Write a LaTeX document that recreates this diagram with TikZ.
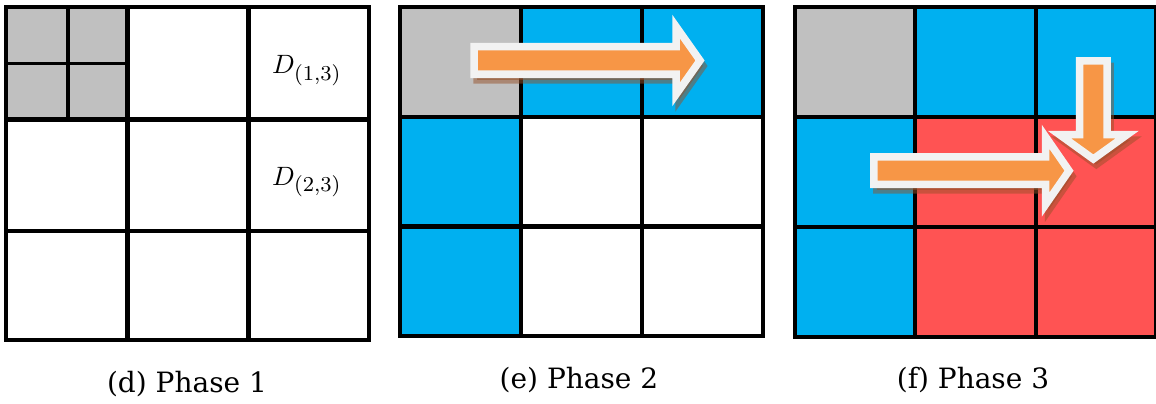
\documentclass[tikz,border=0pt]{standalone}
\usepackage{graphicx}
\usepackage{fontspec}
\newfontfamily\capfont{DejaVu Serif}
\definecolor{cellgray}{HTML}{C0C0C0}
\definecolor{cellblue}{HTML}{00B0F0}
\definecolor{cellred}{HTML}{FF5353}
\definecolor{arroworange}{HTML}{F79646}
\definecolor{arrowrim}{HTML}{F2F2F2}
\definecolor{shadowbrown}{RGB}{150,80,40}
% block name D with an enlarged index, scaled up as a whole
\newcommand{\blocktext}[2]{\scalebox{2.65}{$D_{\hbox{\fontsize{8}{9}\selectfont$(#1{,}#2)$}}$}}
\tikzset{
  gridline/.style={line width=4.2, black},
  subline/.style={line width=3.6, black},
  arrowshadow/.style={fill=shadowbrown, draw=shadowbrown, line width=7.5, miter limit=10, opacity=0.5},
  arrowbody/.style={fill=arroworange, draw=arrowrim, line width=7.5, miter limit=10},
  blocklabel/.style={inner sep=0},
  caption/.style={inner sep=0, font=\capfont\fontsize{28}{32}\selectfont},
}
\begin{document}
\begin{tikzpicture}[x=1pt,y=-1pt]
\useasboundingbox (0,0) rectangle (1156,404);

% ---------- Phase 1 ----------
\fill[cellgray] (6,7) rectangle (127.5,119.5);
\draw[subline] (68,7) -- (68,119.5);
\draw[subline] (6,63.5) -- (127.5,63.5);
\draw[gridline] (127.5,7) -- (127.5,340) (248.5,7) -- (248.5,340)
                (6,119.5) -- (369,119.5) (6,231) -- (369,231);
\draw[gridline] (6,7) rectangle (369,340);
\node[blocklabel, anchor=base west] (d13) at (272,73.3) {\blocktext{1}{3}};
\node[blocklabel, anchor=base west] (d23) at (272,185) {\blocktext{2}{3}};
\node[caption, anchor=base] (capd) at (187,392.7) {(d) Phase 1};

% ---------- Phase 2 ----------
\fill[cellgray] (400,7) rectangle (521,117);
\fill[cellblue] (521,7) rectangle (763,117);
\fill[cellblue] (400,117) rectangle (521,336);
\draw[gridline] (521,7) -- (521,336) (642,7) -- (642,336)
                (400,117) -- (763,117) (400,226.5) -- (763,226.5);
\draw[gridline] (400,7) rectangle (763,336);
\node[caption, anchor=base] (cape) at (579,388.5) {(e) Phase 2};

% arrow along the first row
\draw[arrowshadow, shift={(3,5.5)}]
  (474,46.75) -- (676,46.75) -- (676,26.5) -- (700,60.5) -- (676,94.5) -- (676,74.25) -- (474,74.25) -- cycle;
\draw[arrowbody]
  (474,46.75) -- (676,46.75) -- (676,26.5) -- (700,60.5) -- (676,94.5) -- (676,74.25) -- (474,74.25) -- cycle;

% ---------- Phase 3 ----------
\fill[cellgray] (795,7) rectangle (915.3,117);
\fill[cellblue] (915.3,7) rectangle (1156,117);
\fill[cellblue] (795,117) rectangle (915.3,337);
\fill[cellred] (915.3,117) rectangle (1156,337);
\draw[gridline] (915.3,7) -- (915.3,337) (1035.7,7) -- (1035.7,337)
                (795,117) -- (1156,117) (795,227) -- (1156,227);
\draw[gridline] (795,7) rectangle (1156,337);
\node[caption, anchor=base] (capf) at (973,388.5) {(f) Phase 3};

% horizontal arrow along the second row
\draw[arrowshadow, shift={(3,5.5)}]
  (873.75,156.95) -- (1045.5,156.95) -- (1045.5,136.7) -- (1069,170.7) -- (1045.5,204.7) -- (1045.5,184.45) -- (873.75,184.45) -- cycle;
\draw[arrowbody]
  (873.75,156.95) -- (1045.5,156.95) -- (1045.5,136.7) -- (1069,170.7) -- (1045.5,204.7) -- (1045.5,184.45) -- (873.75,184.45) -- cycle;

% vertical arrow down the third column
\draw[arrowshadow, shift={(3,5.5)}]
  (1079.55,61) -- (1079.55,134.5) -- (1059.3,134.5) -- (1093.3,159) -- (1127.3,134.5) -- (1107.05,134.5) -- (1107.05,61) -- cycle;
\draw[arrowbody]
  (1079.55,61) -- (1079.55,134.5) -- (1059.3,134.5) -- (1093.3,159) -- (1127.3,134.5) -- (1107.05,134.5) -- (1107.05,61) -- cycle;
\end{tikzpicture}
\end{document}
